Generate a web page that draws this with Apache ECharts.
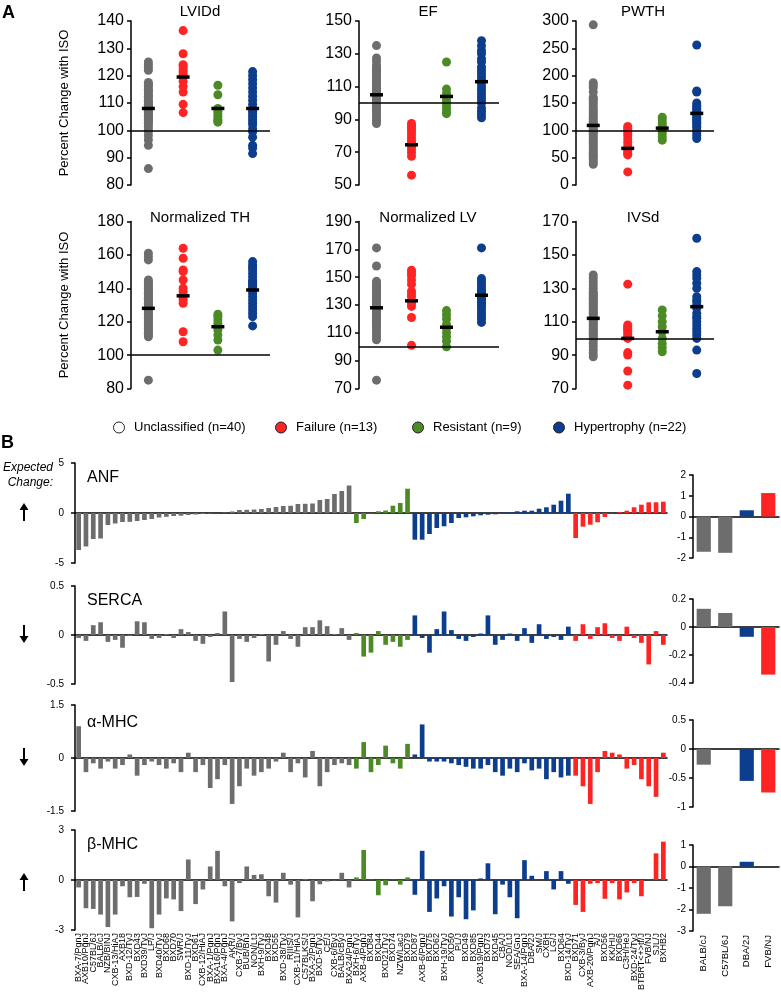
<!DOCTYPE html>
<html><head><meta charset="utf-8">
<script src="https://cdn.jsdelivr.net/npm/echarts@6/dist/echarts.min.js"></script>
<style>html,body{margin:0;padding:0;background:#fff}#c{width:781px;height:993px}</style>
</head><body><div id="c"></div>
<script>
// ---------------- Panel A data ----------------
const groupLabels = ['Unclassified (n=40)','Failure (n=13)','Resistant (n=9)','Hypertrophy (n=22)'];
const groupKeys = ['Unclassified','Failure','Resistant','Hypertrophy'];

const lviddTicks = [80,140,10];
const lviddUnclassified = [86,94.5,96.5,98,99.5,100.5,101.5,102.5,103,103.5,104,104.5,105,105.5,106,106.5,107,107.5,108,108,108.5,109,109.5,110,110.5,111,112,112.5,113,114,114.5,115,116,116.5,117,117.5,122,123,124,125];
const lviddFailure = [106.5,109.5,114,116,118,119.5,120.5,121.5,122.5,123.5,124,128,136.5];
const lviddResistant = [103,103.5,104,105,106,107,108,113,116.5];
const lviddHypertrophy = [91.5,93.5,94.5,97.5,99.5,100.5,102,103,104,105,106,107,108,109.5,111,112.5,114,115.5,117,118.5,120,121.5];
const lviddMeans = [108,119.5,108,108];

const efTicks = [50,150,20];
const efUnclassified = [87.5,89,90.5,92,93.5,95,96,97,98,99,99.5,100,101,102,102.5,103,104,104.5,105,106,107,108,109,110,111,112,113,114,115,116,117,118,119,120,121,122,123,125.5,127.5,135];
const efFailure = [56,67.5,70,72,74,75.5,77,79,81,83,84.5,86,87.5];
const efResistant = [93.5,95,97,99,101,103,106,108.5,125];
const efHypertrophy = [91,93,95,97,100,102,104,106,108,110,112,114,116,118,120,122,125,127,130,132,135,138];
const efMeans = [105,74.5,104,113];

const pwthTicks = [0,300,50];
const pwthUnclassified = [38,42,46,50,53,56,60,64,68,72,76,80,84,88,92,95,98,100,102,105,108,110,113,116,120,124,128,132,136,140,145,150,155,158,160,170,178,183,187,293];
const pwthFailure = [24,55,58,62,66,72,78,84,90,95,100,104,107];
const pwthResistant = [82,88,94,100,104,108,113,119,124];
const pwthHypertrophy = [85,90,95,100,105,108,112,115,118,121,124,127,130,134,137,140,143,146,150,170,172,256];
const pwthMeans = [109,67,104,131];

const nthTicks = [80,180,20];
const nthUnclassified = [85,111,112,113,114,115,116,117,118,119,120,121,122,123,124,125,126,127,128,129,130,130,131,132,133,134,135,136,137,138,139,140,141,142,143,144,145,157,159,161];
const nthFailure = [108,114,131,133,134.5,136,138,140,145,150,151,158,164];
const nthResistant = [103,109,112,115,117,119,121,123,124.5];
const nthHypertrophy = [117.5,123,125,127,129,131,133,135,137,139,140,141,142,143,144,145,147,149,151,152.5,154,156];
const nthMeans = [128,135.5,117,139];

const nlvTicks = [70,190,20];
const nlvUnclassified = [76,105,107,109,111,113,115,116,117,118,119,120,121,122,123,124,125,126,127,128,129,130,131,132,133,134,135,136,137,138,139,140,141,142,143,144,145,147,158,171];
const nlvFailure = [101,121,129,131,133,136,138,140,145,148,151,153,155];
const nlvResistant = [100,104,107,110,113,116,120,123,126];
const nlvHypertrophy = [117.5,120,122,124,126,128,130,131,132,134,135,136,137,138,139,140,141,143,145,147,149,171];
const nlvMeans = [128,133,114,137];

const ivsdTicks = [70,170,20];
const ivsdUnclassified = [89,91,93,95,97,99,100,101,102,103,104,105,106,107,108,109,110,111,112,113,114,115,116,117,118,119,120,121,122,123,124,125,126,127,128,130,132,134,136,138];
const ivsdFailure = [72,80.5,90,91.5,100,101,102.5,104,105,106,107,108,132.5];
const ivsdResistant = [92,94.5,97,100,104,107,110,113.5,117];
const ivsdHypertrophy = [79,93,100,102,104,106,108,110,112,113,115,118,120,122,123,125,130,133,136,138,140,160];
const ivsdMeans = [112,100,104,119];

// ---------------- Panel B data ----------------
const strains = ["BXA-7/PgnJ","AXB10/PgnJ","C57BL/6J","BALB/cJ","NZB/BINJ","CXB-13/HiAJ","AXB18","BXD-12/TyJ","BXD43","BXD39/TyJ","LP/J","BXD40/TyJ","BXD68","BXD70","SWR/J","BXD-11/TyJ","BXD61","CXB-12/HiAJ","BXA-1/PgnJ","BXA16/PgnJ","BXA-4/PgnJ","AKR/J","CXB-7/ByJ","BUB/BnJ","NON/LtJ","BXH-9/TyJ","BXD48","BXD55","BXD-38/TyJ","RIIIS/J","CXB-11/HiAJ","C57BLKS/J","BXA-2/PgnJ","BXD-5/TyJ","CE/J","CXB-6/ByJ","BALB/cByJ","BXA24/PgnJ","BXH-6/TyJ","AXB-4/PgnJ","BXD84","BXD44","BXD21/TyJ","BXD74","NZW/LacJ","BXD79","BXD87","AXB-6/PgnJ","BXD75","BXD62","BXH-19/TyJ","BXD50","PL/J","BXD49","BXD85","AXB19/PgnJ","BXD73","BXD45","CBA/J","NOD/LtJ","SEA/GnJ","BXA-14/PgnJ","DBA/2J","SM/J","CXBH","LG/J","BXD64","BXD-14/TyJ","BXD71","CXB-3/ByJ","AXB-20/PgnJ","A/J","BXD56","KK/HIJ","BXD66","C3H/HeJ","BXD-24/TyJ","BTBRT<+>tf/J","FVB/NJ","SJL/J","BXHB2"];
// strains are grouped in this order: counts per group
const strainGroupOrder = ['Unclassified','Resistant','Hypertrophy','Failure'];
const strainGroupCounts = [38,8,22,13];

const anfValues = [-3.7,-3.35,-2.6,-2.55,-1.2,-1.05,-0.9,-0.88,-0.8,-0.7,-0.6,-0.45,-0.38,-0.3,-0.27,-0.2,-0.15,-0.1,-0.05,-0.02,0.05,0.15,0.3,0.32,0.35,0.4,0.5,0.6,0.7,0.72,0.9,0.92,0.95,1.3,1.4,1.9,2.2,2.75,
 -1.0,-0.6,-0.05,0.17,0.25,0.73,1.0,2.43,
 -2.67,-2.67,-2.1,-1.5,-1.33,-1.0,-0.5,-0.43,-0.33,-0.23,-0.17,-0.13,0.03,0.07,0.17,0.23,0.23,0.43,0.57,0.83,1.23,1.93,
 -2.5,-1.37,-1.17,-0.93,-0.4,-0.03,0.1,0.23,0.57,0.83,1.07,1.07,1.13];
const sercaValues = [-0.03,-0.06,0.1,0.13,-0.07,-0.05,-0.13,-0.01,0.14,0.13,-0.04,-0.03,0.01,-0.03,0.06,0.03,-0.06,-0.09,-0.02,0.02,0.24,-0.48,-0.04,-0.07,-0.03,0.01,-0.27,-0.1,0.04,-0.04,-0.12,0.08,0.08,0.15,0.09,0.01,0.07,-0.05,
 0.02,-0.22,-0.18,0.04,-0.1,-0.07,-0.12,-0.05,
 0.2,-0.03,-0.18,0.06,0.24,0.05,-0.04,-0.06,-0.02,0.015,0.2,-0.1,-0.05,0.015,-0.06,0.07,-0.08,0.11,-0.04,-0.02,-0.05,0.085,
 -0.06,0.11,-0.04,0.08,0.12,-0.03,-0.06,0.085,-0.03,-0.08,-0.3,0.04,-0.1];
const amhcValues = [0.9,-0.4,-0.15,-0.3,-0.1,-0.3,-0.2,0.1,-0.5,-0.2,-0.1,-0.2,-0.3,-0.15,-0.4,0.15,-0.4,-0.2,-0.85,-0.6,-0.2,-1.3,-0.8,-0.3,-0.5,-0.4,-0.3,-0.1,0.15,-0.4,-0.15,-0.55,0.2,-0.8,-0.4,-0.2,-0.15,-0.2,
 -0.3,0.45,-0.4,-0.2,0.35,-0.15,-0.3,0.4,
 0.1,0.95,-0.1,-0.1,-0.1,-0.15,-0.2,-0.25,-0.3,-0.3,-0.2,-0.4,-0.5,-0.3,-0.4,-0.15,-0.35,-0.3,-0.6,-0.4,-0.55,-0.5,
 -0.5,-0.8,-1.3,-0.4,0.2,0.15,0.1,-0.3,-0.2,-0.6,-0.8,-1.1,0.15];
const bmhcValues = [-0.45,-1.7,-1.74,-2.08,-2.83,-2.08,-0.38,-1.04,-1.02,-0.23,-2.9,-2.08,-1.11,-1.17,-1.87,1.23,-1.45,-0.57,0.81,1.75,-0.38,-2.49,-0.19,0.81,0.3,0.34,-0.98,-1.36,0.43,-0.28,-2.25,0.06,-1.28,-0.26,-0.09,-0.03,0.43,-0.45,
 0.15,1.8,0.02,-0.92,-0.32,0.02,-0.28,0.15,
 -0.89,1.75,-1.92,-1.11,-0.38,-2.2,-1.04,-2.36,-1.83,0.09,1.0,-2.06,-0.28,-1.04,-2.3,1.19,0.25,0.02,0.53,-0.57,0.53,-0.23,
 -1.5,-1.92,-0.23,-0.19,-1.13,-0.19,-1.17,-0.75,-0.19,-0.98,0.02,1.6,2.3];

const refStrains = ['BALB/cJ','C57BL/6J','DBA/2J','FVB/NJ'];
const refGroups = ['Unclassified','Unclassified','Hypertrophy','Failure'];
const anfRef = [-1.7,-1.75,0.3,1.13];
const sercaRef = [0.13,0.10,-0.07,-0.34];
const amhcRef = [-0.27,0,-0.55,-0.75];
const bmhcRef = [-2.2,-1.85,0.22,0];

const anfTicks = [-5,5,5], sercaTicks = [-0.5,0.5,0.5], amhcTicks = [-1.5,1.5,1.5], bmhcTicks = [-3,3,3];
const anfRefTicks = [-2,2,1], sercaRefTicks = [-0.4,0.2,0.2], amhcRefTicks = [-1,0.5,0.5], bmhcRefTicks = [-3,1,1];

// ---------------- Build chart ----------------
const FONT = '"Liberation Sans", Arial, Helvetica, sans-serif';
const colors = {Unclassified:'#6d6d6d', Failure:'#ff2424', Resistant:'#4c8a25', Hypertrophy:'#0d3d8d'};
const grid=[], xAxis=[], yAxis=[], series=[], graphic=[];

function txt(x,y,t,size,opts){
  opts = opts||{};
  graphic.push({type:'text', x:x, y:y, rotation: opts.rot||0, silent:true, z:100,
    style:{text:t, fill:'#000', font:(opts.italic?'italic ':'')+(opts.bold?'bold ':'')+size+'px '+FONT,
      align:opts.align||'left', verticalAlign:'middle', textAlign:opts.align||'left', textVerticalAlign:'middle'}});
}

const panelA = [
  {title:'LVIDd', ticks:lviddTicks, groups:[lviddUnclassified,lviddFailure,lviddResistant,lviddHypertrophy], means:lviddMeans},
  {title:'EF', ticks:efTicks, groups:[efUnclassified,efFailure,efResistant,efHypertrophy], means:efMeans},
  {title:'PWTH', ticks:pwthTicks, groups:[pwthUnclassified,pwthFailure,pwthResistant,pwthHypertrophy], means:pwthMeans},
  {title:'Normalized TH', ticks:nthTicks, groups:[nthUnclassified,nthFailure,nthResistant,nthHypertrophy], means:nthMeans},
  {title:'Normalized LV', ticks:nlvTicks, groups:[nlvUnclassified,nlvFailure,nlvResistant,nlvHypertrophy], means:nlvMeans},
  {title:'IVSd', ticks:ivsdTicks, groups:[ivsdUnclassified,ivsdFailure,ivsdResistant,ivsdHypertrophy], means:ivsdMeans}
];
const layA = [
  {left:131, top:21, width:139, height:164, tx:200, ty:12},
  {left:359, top:21, width:140, height:164, tx:428, ty:12},
  {left:576, top:21, width:138, height:164, tx:643, ty:12},
  {left:131, top:221.5, width:139, height:167, tx:200, ty:218},
  {left:359, top:221.5, width:140, height:167, tx:428, ty:218},
  {left:576, top:221.5, width:138, height:167, tx:643, ty:218}
];
panelA.forEach((p,k)=>{
  const L = layA[k], gi = grid.length;
  grid.push({left:L.left, top:L.top, width:L.width, height:L.height});
  xAxis.push({gridIndex:gi, type:'category', data:groupKeys, show:false});
  yAxis.push({gridIndex:gi, type:'value', min:p.ticks[0], max:p.ticks[1], interval:p.ticks[2],
    axisLine:{show:true, onZero:false, lineStyle:{color:'#000', width:1.5}},
    axisTick:{show:true, length:4, lineStyle:{color:'#000', width:1.5}},
    axisLabel:{fontSize:16, color:'#000', margin:7, fontFamily:FONT},
    splitLine:{show:false},
    name:(k%3===0)?'Percent Change with ISO':'', nameLocation:'middle', nameGap:60, nameRotate:90,
    nameTextStyle:{fontSize:13, color:'#000', fontFamily:FONT}});
  p.groups.forEach((vals,g)=>{
    series.push({type:'scatter', name:groupLabels[g], xAxisIndex:gi, yAxisIndex:gi, symbol:'circle', symbolSize:9,
      itemStyle:{color:colors[groupKeys[g]], opacity:1}, data:vals.map(v=>[g,v]), silent:true, z:2});
  });
  series.push({type:'scatter', xAxisIndex:gi, yAxisIndex:gi, symbol:'rect', symbolSize:[13,3.5], silent:true, z:4,
    itemStyle:{color:'#000', opacity:1}, data:p.means.map((m,g)=>[g,m]),
    markLine:{silent:true, symbol:['none','none'], label:{show:false}, animation:false,
      lineStyle:{color:'#000', width:1.5, type:'solid'}, data:[{yAxis:100}]}});
  txt(L.tx, L.ty, p.title, 15, {align:'center'});
});

// Panel B
const strainColors = [];
strainGroupOrder.forEach((g,i)=>{ for(let j=0;j<strainGroupCounts[i];j++) strainColors.push(colors[g]); });

const genes = [
  {name:'ANF', vals:anfValues, ticks:anfTicks, ref:anfRef, refTicks:anfRefTicks},
  {name:'SERCA', vals:sercaValues, ticks:sercaTicks, ref:sercaRef, refTicks:sercaRefTicks},
  {name:'α-MHC', vals:amhcValues, ticks:amhcTicks, ref:amhcRef, refTicks:amhcRefTicks},
  {name:'β-MHC', vals:bmhcValues, ticks:bmhcTicks, ref:bmhcRef, refTicks:bmhcRefTicks}
];
const layB = [
  {top:463, height:100, rtop:475, rheight:83, ty:478},
  {top:586, height:98, rtop:599, rheight:84, ty:601},
  {top:705, height:106, rtop:720, rheight:87, ty:723},
  {top:830, height:106, rtop:845, rheight:86, ty:845}
];
function yAx(gi, t, margin){
  return {gridIndex:gi, type:'value', min:t[0], max:t[1], interval:t[2],
    axisLine:{show:true, onZero:false, lineStyle:{color:'#000', width:1.5}},
    axisTick:{show:true, length:4, lineStyle:{color:'#000', width:1.5}},
    axisLabel:{fontSize:10, color:'#000', margin:margin, fontFamily:FONT},
    splitLine:{show:false}};
}
genes.forEach((gn,k)=>{
  const L = layB[k];
  const last = (k===genes.length-1);
  let gi = grid.length;
  grid.push({left:75, top:L.top, width:592, height:L.height});
  const xi = xAxis.length;
  xAxis.push({gridIndex:gi, type:'category', data:strains, position:'top',
    axisLine:{show:true, onZero:true, lineStyle:{color:'#000', width:1.5}},
    axisTick:{show:false}, axisLabel:{show:false}});
  if(last){
    xAxis.push({gridIndex:gi, type:'category', data:strains, position:'bottom',
      axisLine:{show:false, onZero:false}, axisTick:{show:false},
      axisLabel:{show:true, interval:0, rotate:90, fontSize:9, color:'#000', margin:3, fontFamily:FONT}});
  }
  const yi = yAxis.length;
  yAxis.push(yAx(gi, gn.ticks, 11));
  series.push({type:'bar', xAxisIndex:xi, yAxisIndex:yi, barWidth:'64%', silent:true,
    data:gn.vals.map((v,i)=>({value:v, itemStyle:{color:strainColors[i]}}))});
  gi = grid.length;
  grid.push({left:693, top:L.rtop, width:86, height:L.rheight});
  const rxi = xAxis.length;
  xAxis.push({gridIndex:gi, type:'category', data:refStrains, position:'top',
    axisLine:{show:true, onZero:true, lineStyle:{color:'#000', width:1.5}},
    axisTick:{show:false}, axisLabel:{show:false}});
  if(last){
    xAxis.push({gridIndex:gi, type:'category', data:refStrains, position:'bottom',
      axisLine:{show:false, onZero:false}, axisTick:{show:false},
      axisLabel:{show:true, interval:0, rotate:90, fontSize:9.5, color:'#000', margin:4, fontFamily:FONT}});
  }
  const ryi = yAxis.length;
  yAxis.push(yAx(gi, gn.refTicks, 7));
  series.push({type:'bar', xAxisIndex:rxi, yAxisIndex:ryi, barWidth:'66%', silent:true,
    data:gn.ref.map((v,i)=>({value:v, itemStyle:{color:colors[refGroups[i]]}}))});
  txt(87, L.ty, gn.name, 16);
});

txt(2, 13, 'A', 18, {bold:true});
txt(1, 443, 'B', 18, {bold:true});
txt(53, 468, 'Expected', 12, {italic:true, align:'right'});
txt(53, 483, 'Change:', 12, {italic:true, align:'right'});
function arrow(x, yTail, yTip){
  const dir = yTip < yTail ? -1 : 1;
  graphic.push({type:'line', silent:true, z:100, shape:{x1:x, y1:yTail, x2:x, y2:yTip - dir*6},
    style:{stroke:'#000', lineWidth:2}});
  graphic.push({type:'polygon', silent:true, z:100, shape:{points:[[x-4.5, yTip - dir*7],[x+4.5, yTip - dir*7],[x, yTip]]},
    style:{fill:'#000'}});
}
arrow(24, 521, 503);
arrow(24, 625, 643);
arrow(24, 748, 766);
arrow(24, 891, 873);

const legendCenters = [118, 280, 417, 558];
const legends = groupLabels.map((n,g)=>({left:legendCenters[g]-10, top:416, itemWidth:20, itemHeight:11, icon:'circle', selectedMode:false,
  textStyle:{fontSize:13, color:'#000', fontFamily:FONT},
  data:[{name:n, itemStyle:{color:g===0?'#fff':colors[groupKeys[g]], borderColor:'#222', borderWidth:1}}]}));

const chart = echarts.init(document.getElementById('c'), null, {renderer:'canvas'});
chart.setOption({
  animation:false,
  backgroundColor:'#fff',
  textStyle:{fontFamily:FONT},
  grid:grid, xAxis:xAxis, yAxis:yAxis, series:series, graphic:graphic,
  legend:legends
});
</script></body></html>
